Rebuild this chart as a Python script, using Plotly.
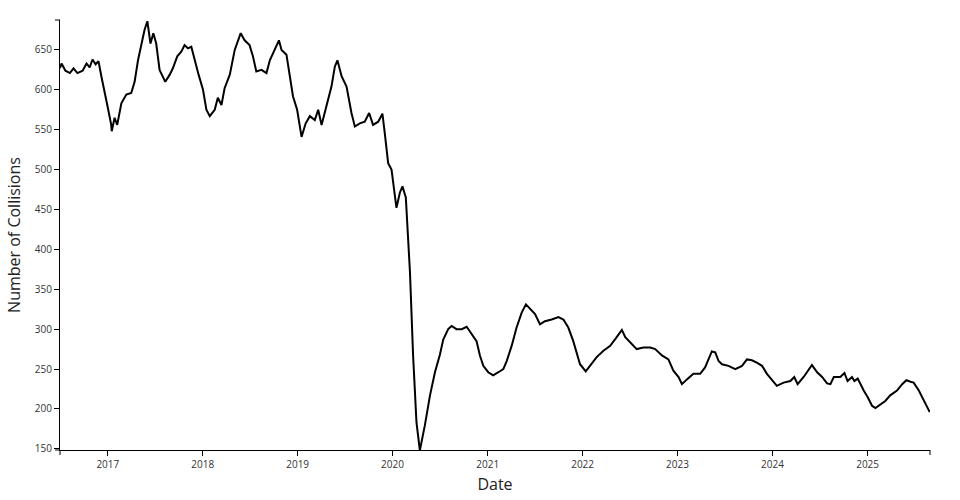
"""
Rolling daily collision count, mid 2016 to late 2025.
"""

import plotly.graph_objects as go

# values
dates = [
    '2016-07-01', '2016-07-07', '2016-07-22', '2016-08-08', '2016-08-22', '2016-09-06',
    '2016-09-26', '2016-10-11', '2016-10-23', '2016-11-03', '2016-11-15', '2016-11-26',
    '2016-12-07', '2016-12-19', '2016-12-31', '2017-01-14', '2017-01-16', '2017-01-27',
    '2017-02-06', '2017-02-22', '2017-03-13', '2017-04-01', '2017-04-14', '2017-04-27',
    '2017-05-12', '2017-05-22', '2017-06-02', '2017-06-14', '2017-06-25', '2017-07-06',
    '2017-07-19', '2017-08-10', '2017-08-27', '2017-09-08', '2017-09-25', '2017-10-11',
    '2017-10-23', '2017-11-05', '2017-11-18', '2017-12-01', '2017-12-16', '2018-01-02',
    '2018-01-15', '2018-01-28', '2018-02-16', '2018-02-28', '2018-03-14', '2018-03-26',
    '2018-04-15', '2018-05-04', '2018-05-16', '2018-05-27', '2018-06-11', '2018-06-30',
    '2018-07-13', '2018-07-26', '2018-08-15', '2018-09-03', '2018-09-16', '2018-10-05',
    '2018-10-21', '2018-10-31', '2018-11-19', '2018-12-02', '2018-12-14', '2018-12-30',
    '2019-01-16', '2019-02-01', '2019-02-17', '2019-03-08', '2019-03-21', '2019-04-03',
    '2019-04-22', '2019-05-11', '2019-05-24', '2019-06-03', '2019-06-19', '2019-07-08',
    '2019-07-27', '2019-08-09', '2019-08-28', '2019-09-16', '2019-10-03', '2019-10-18',
    '2019-11-07', '2019-11-23', '2019-12-02', '2019-12-15', '2019-12-28', '2020-01-10',
    '2020-01-16', '2020-01-29', '2020-02-08', '2020-02-21', '2020-03-08', '2020-03-20',
    '2020-04-02', '2020-04-15', '2020-05-04', '2020-05-24', '2020-06-12', '2020-07-01',
    '2020-07-14', '2020-08-02', '2020-08-15', '2020-09-03', '2020-09-23', '2020-10-12',
    '2020-10-31', '2020-11-19', '2020-12-02', '2020-12-15', '2021-01-03', '2021-01-22',
    '2021-02-11', '2021-03-02', '2021-03-15', '2021-04-03', '2021-04-22', '2021-05-12',
    '2021-05-28', '2021-06-13', '2021-07-02', '2021-07-21', '2021-08-09', '2021-09-04',
    '2021-09-30', '2021-10-19', '2021-11-07', '2021-11-26', '2021-12-09', '2021-12-22',
    '2022-01-13', '2022-01-30', '2022-02-24', '2022-03-22', '2022-04-17', '2022-05-12',
    '2022-06-01', '2022-06-14', '2022-07-03', '2022-07-28', '2022-08-23', '2022-09-18',
    '2022-10-07', '2022-11-02', '2022-11-27', '2022-12-16', '2023-01-05', '2023-01-18',
    '2023-02-06', '2023-03-03', '2023-03-29', '2023-04-17', '2023-04-30', '2023-05-13',
    '2023-05-26', '2023-06-08', '2023-06-21', '2023-07-16', '2023-08-11', '2023-09-06',
    '2023-09-25', '2023-10-14', '2023-11-02', '2023-11-22', '2023-12-11', '2023-12-30',
    '2024-01-18', '2024-02-13', '2024-03-10', '2024-03-25', '2024-04-07', '2024-04-30',
    '2024-05-19', '2024-06-01', '2024-06-21', '2024-07-10', '2024-07-29', '2024-08-11',
    '2024-08-24', '2024-09-18', '2024-10-04', '2024-10-16', '2024-11-02', '2024-11-11',
    '2024-11-24', '2024-12-04', '2024-12-17', '2025-01-01', '2025-01-18', '2025-01-31',
    '2025-02-19', '2025-03-10', '2025-03-29', '2025-04-24', '2025-05-14', '2025-05-30',
    '2025-06-15', '2025-06-27', '2025-07-17', '2025-08-05', '2025-08-28',
]

collisions = [
    627, 633, 624, 621, 627, 621,
    624, 633, 628, 638, 632, 636,
    617, 596, 579, 556, 548, 565,
    556, 583, 594, 596, 610, 637,
    662, 675, 686, 658, 671, 658,
    625, 610, 619, 627, 642, 648,
    656, 652, 654, 637, 619, 600,
    575, 567, 575, 590, 581, 602,
    619, 650, 660, 671, 662, 656,
    642, 623, 625, 621, 637, 650,
    662, 650, 644, 617, 592, 575,
    541, 558, 567, 562, 575, 556,
    579, 604, 629, 637, 617, 604,
    571, 554, 558, 560, 571, 556,
    560, 570, 546, 508, 500, 462,
    452, 471, 479, 465, 371, 267,
    183, 148, 179, 217, 246, 268,
    287, 300, 304, 300, 300, 303,
    294, 285, 267, 254, 246, 242,
    246, 250, 260, 279, 302, 321,
    331, 325, 319, 306, 310, 312,
    315, 312, 302, 285, 269, 256,
    247, 254, 265, 273, 279, 290,
    299, 290, 283, 275, 277, 277,
    275, 267, 262, 248, 240, 231,
    237, 244, 244, 252, 262, 272,
    271, 260, 256, 254, 250, 254,
    262, 261, 258, 254, 244, 237,
    229, 233, 235, 240, 231, 240,
    248, 255, 246, 240, 232, 231,
    240, 240, 245, 235, 240, 235,
    238, 231, 223, 215, 204, 201,
    206, 210, 217, 223, 231, 236,
    234, 233, 223, 210, 196,
]

y_ticks = [150, 200, 250, 300, 350, 400, 450, 500, 550, 600, 650]
y_range = [148.5, 687.5]
x_range = ['2016-07-01', '2025-08-29']

fig = go.Figure()

fig.add_trace(go.Scatter(
    x=dates,
    y=collisions,
    mode='lines',
    line=dict(color='black', width=2),
    showlegend=False,
    hovertemplate='%{x|%Y-%m-%d}<br>%{y:.0f}<extra></extra>'
))

# outer ticks at the axis ends (d3 style)
tick_x = 5 / 870
tick_y = 5 / 430
outer = [
    dict(x0=0, x1=0, y0=0, y1=-tick_y),
    dict(x0=1, x1=1, y0=0, y1=-tick_y),
    dict(x0=0, x1=-tick_x, y0=0, y1=0),
    dict(x0=0, x1=-tick_x, y0=1, y1=1),
]
for s in outer:
    fig.add_shape(type='line', xref='paper', yref='paper',
                  line=dict(color='black', width=1), **s)

fig.update_layout(
    xaxis=dict(
        title=dict(text='Date', font=dict(size=16, color='#222'), standoff=8),
        range=x_range,
        showgrid=False,
        zeroline=False,
        showline=True,
        linecolor='black',
        linewidth=1,
        ticks='outside',
        ticklen=5,
        tickcolor='black',
        dtick='M12',
        tickformat='%Y',
        tickfont=dict(size=10, color='#333')
    ),
    yaxis=dict(
        title=dict(text='Number of Collisions', font=dict(size=16, color='#222'), standoff=10),
        range=y_range,
        showgrid=False,
        zeroline=False,
        showline=True,
        linecolor='black',
        linewidth=1,
        ticks='outside',
        ticklen=5,
        tickcolor='black',
        tickvals=y_ticks,
        tickfont=dict(size=10, color='#333')
    ),
    plot_bgcolor='white',
    paper_bgcolor='white',
    font=dict(family='Open Sans, sans-serif', size=12, color='#222'),
    margin=dict(l=60, r=30, t=20, b=50, autoexpand=False),
    width=960,
    height=500
)

fig.write_html(
    "out.html",
    config={'displayModeBar': False},
    post_script="document.body.style.margin = '0';"
)
